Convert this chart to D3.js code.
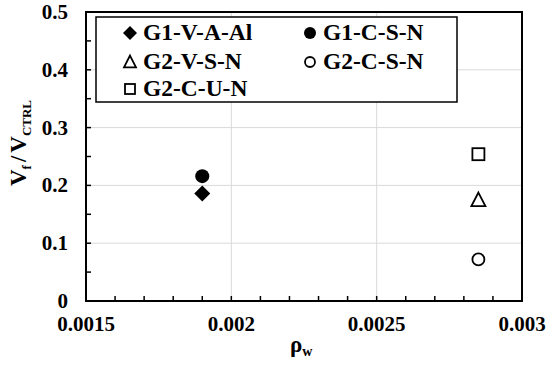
<!DOCTYPE html>
<html>
<head>
<meta charset="utf-8">
<script src="https://cdn.jsdelivr.net/npm/d3@7"></script>
<style>
  body { margin: 0; background: #fff; }
</style>
</head>
<body>
<div class="chart"></div>
<script>
const width = 550, height = 370
const margin = {left: 86, right: 28, top: 12, bottom: 69}
const serif = "'Liberation Serif'"

// data
const seriesNames = ["G1-V-A-Al", "G1-C-S-N", "G2-V-S-N", "G2-C-S-N", "G2-C-U-N"]
const seriesShapes = ["diamond", "filledCircle", "triangle", "circle", "square"]
const rhoW = [0.0019, 0.0019, 0.00285, 0.00285, 0.00285]
const vRatio = [0.186, 0.216, 0.175, 0.072, 0.254]
const xTicks = [0.0015, 0.002, 0.0025, 0.003]
const xTickLabels = ["0.0015", "0.002", "0.0025", "0.003"]
const yTicks = [0, 0.1, 0.2, 0.3, 0.4, 0.5]
const yTickLabels = ["0", "0.1", "0.2", "0.3", "0.4", "0.5"]

const svg = d3.select(".chart").append("svg")
  .attr("width", width)
  .attr("height", height)

const x = d3.scaleLinear().domain([0.0015, 0.003]).range([margin.left, width - margin.right])
const y = d3.scaleLinear().domain([0, 0.5]).range([height - margin.bottom, margin.top])

function label(sel, size) {
  return sel.attr("font-family", serif).attr("font-weight", "bold").attr("font-size", size).attr("fill", "#000")
}

// gridlines
svg.append("g").selectAll("line")
  .data(xTicks.slice(1, -1))
  .join("line")
  .attr("x1", d => x(d)).attr("x2", d => x(d))
  .attr("y1", y(0)).attr("y2", y(0.5))
  .attr("stroke", "#d9d9d9").attr("stroke-width", 1)
svg.append("g").selectAll("line")
  .data(yTicks.slice(1, -1))
  .join("line")
  .attr("x1", x(0.0015)).attr("x2", x(0.003))
  .attr("y1", d => y(d)).attr("y2", d => y(d))
  .attr("stroke", "#d9d9d9").attr("stroke-width", 1)

// frame
svg.append("rect")
  .attr("x", x(0.0015)).attr("y", y(0.5))
  .attr("width", x(0.003) - x(0.0015)).attr("height", y(0) - y(0.5))
  .attr("fill", "none").attr("stroke", "#000").attr("stroke-width", 2)

// inward minor ticks
const xMinor = d3.range(16).map(i => 0.0015 + i * 0.0001)
svg.append("g").selectAll("line")
  .data(xMinor)
  .join("line")
  .attr("x1", d => x(d)).attr("x2", d => x(d))
  .attr("y1", y(0)).attr("y2", y(0) - 5)
  .attr("stroke", "#000").attr("stroke-width", 1.5)
const yMinor = d3.range(11).map(i => i * 0.05)
svg.append("g").selectAll("line")
  .data(yMinor)
  .join("line")
  .attr("x1", x(0.0015)).attr("x2", x(0.0015) + 5)
  .attr("y1", d => y(d)).attr("y2", d => y(d))
  .attr("stroke", "#000").attr("stroke-width", 1.5)

// tick labels
label(svg.append("g").selectAll("text")
  .data(xTicks)
  .join("text"), 21)
  .attr("x", d => x(d)).attr("y", y(0) + 30)
  .attr("text-anchor", "middle")
  .text((d, i) => xTickLabels[i])
label(svg.append("g").selectAll("text")
  .data(yTicks)
  .join("text"), 21)
  .attr("x", x(0.0015) - 18).attr("y", d => y(d) + 7)
  .attr("text-anchor", "end")
  .text((d, i) => yTickLabels[i])

// axis titles
const xt = label(svg.append("text"), 23)
  .attr("x", 290).attr("y", 352)
xt.append("tspan").text("ρ")
xt.append("tspan").attr("dy", 4).attr("font-size", 14).text("w")

const yt = label(svg.append("text"), 23)
  .attr("transform", "translate(26,143) rotate(-90)")
  .attr("text-anchor", "middle")
yt.append("tspan").text("V")
yt.append("tspan").attr("dy", 5).attr("font-size", 13).text("f")
yt.append("tspan").attr("dy", -5).attr("dx", 3).text("/")
yt.append("tspan").attr("dx", 3).text("V")
yt.append("tspan").attr("dy", 5).attr("font-size", 13).text("CTRL")

function drawMarker(g, shape, s) {
  if (shape === "diamond") {
    const r = s / 2 + 1
    g.append("path").attr("d", `M0,${-r}L${r},0L0,${r}L${-r},0Z`)
      .attr("fill", "#000")
  } else if (shape === "filledCircle") {
    g.append("circle").attr("r", s / 2).attr("fill", "#000")
  } else if (shape === "circle") {
    g.append("circle").attr("r", s / 2 - 1).attr("fill", "#fff").attr("stroke", "#000").attr("stroke-width", 1.8)
  } else if (shape === "square") {
    g.append("rect").attr("x", -s / 2 + 1).attr("y", -s / 2 + 1).attr("width", s - 2).attr("height", s - 2)
      .attr("fill", "#fff").attr("stroke", "#000").attr("stroke-width", 1.8)
  } else if (shape === "triangle") {
    const h = s * 0.9
    g.append("path").attr("d", `M0,${-h / 2 - 1}L${s / 2},${h / 2}L${-s / 2},${h / 2}Z`)
      .attr("fill", "#fff").attr("stroke", "#000").attr("stroke-width", 1.8)
  }
}

// points
seriesNames.forEach((name, i) => {
  const g = svg.append("g").attr("transform", `translate(${x(rhoW[i])},${y(vRatio[i])})`)
  drawMarker(g, seriesShapes[i], 14)
})

// legend
svg.append("rect")
  .attr("x", 96).attr("y", 17).attr("width", 361).attr("height", 85)
  .attr("fill", "#fff").attr("stroke", "#000").attr("stroke-width", 1.5)
const legendPos = [[130, 33], [310, 33], [130, 62], [310, 62], [130, 89]]
seriesNames.forEach((name, i) => {
  const [lx, ly] = legendPos[i]
  const g = svg.append("g").attr("transform", `translate(${lx},${ly})`)
  drawMarker(g, seriesShapes[i], 12)
  label(svg.append("text"), 23.5)
    .attr("x", lx + 13).attr("y", ly + 7)
    .text(name)
})
</script>
</body>
</html>
